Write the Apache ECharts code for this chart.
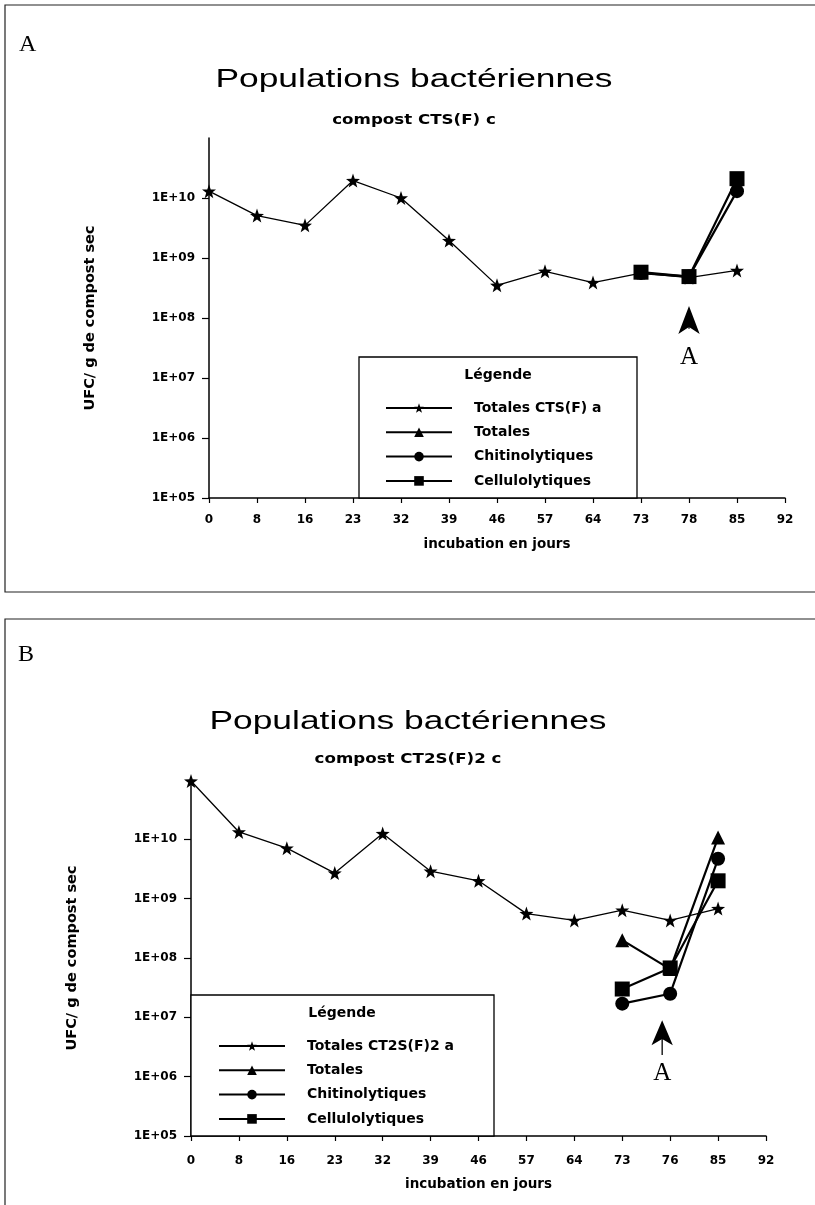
<!DOCTYPE html>
<html>
<head>
<meta charset="utf-8">
<title>Populations bactériennes</title>
<script src="https://cdn.jsdelivr.net/npm/echarts@6/dist/echarts.min.js"></script>
<style>
html, body { margin: 0; padding: 0; background: #fff; }
#chart { width: 815px; height: 1205px; }
</style>
</head>
<body>
<div id="chart"></div>
<script>
// jours d'incubation (axe des x), tels qu'imprimés sous chaque graphique
const joursA = ["0", "8", "16", "23", "32", "39", "46", "57", "64", "73", "78", "85", "92"];
const joursB = ["0", "8", "16", "23", "32", "39", "46", "57", "64", "73", "76", "85", "92"];
// graduations de l'axe log (UFC / g)
const yTicks = [1e5, 1e6, 1e7, 1e8, 1e9, 1e10];

// A - compost CTS(F) c
const totRefA = [1.3e10, 5.1e9, 3.5e9, 1.95e10, 1.0e10, 1.95e9, 3.5e8, 6.0e8, 3.9e8, 5.6e8, 4.7e8, 6.2e8, null];
const totalesA = [null, null, null, null, null, null, null, null, null, null, null, null, null];
const chitinoA = [null, null, null, null, null, null, null, null, null, 5.6e8, 4.9e8, 1.3e10, null];
const celluloA = [null, null, null, null, null, null, null, null, null, 5.8e8, 4.9e8, 2.1e10, null];

// B - compost CT2S(F)2 c
const totRefB = [9.6e10, 1.33e10, 7.1e9, 2.7e9, 1.25e10, 2.9e9, 2.0e9, 5.6e8, 4.3e8, 6.4e8, 4.3e8, 6.8e8, null];
const totalesB = [null, null, null, null, null, null, null, null, null, 2.0e8, 6.5e7, 1.07e10, null];
const chitinoB = [null, null, null, null, null, null, null, null, null, 1.7e7, 2.5e7, 4.7e9, null];
const celluloB = [null, null, null, null, null, null, null, null, null, 3.0e7, 6.8e7, 2.0e9, null];

const STAR = "path://M10 0L12.35 6.76L19.51 6.91L13.8 11.24L15.88 18.09L10 14L4.12 18.09L6.2 11.24L0.49 6.91L7.65 6.76Z";
const SANS = "DejaVu Sans";
const SERIF = "Liberation Serif";

const chart = echarts.init(document.getElementById("chart"), null, { renderer: "canvas" });

const fmtExp = (v) => {
	const e = Math.round(Math.log10(v));
	return "1E+" + (e < 10 ? "0" + e : e);
};

// axes
const xAxis = (idx, cats, margin, gap) => ({
	type: "category",
	gridIndex: idx,
	data: cats,
	boundaryGap: false,
	name: "incubation en jours",
	nameLocation: "middle",
	nameGap: gap,
	nameTextStyle: { fontFamily: SANS, fontWeight: "bold", fontSize: 13.5, color: "#000" },
	axisLine: { lineStyle: { color: "#000", width: 1.5 } },
	axisTick: { show: true, length: 5, lineStyle: { color: "#000", width: 1.2 } },
	axisLabel: { interval: 0, margin, fontFamily: SANS, fontWeight: "bold", fontSize: 12, color: "#000" },
	splitLine: { show: false },
});
const yAxis = (idx) => ({
	type: "log",
	gridIndex: idx,
	logBase: 10,
	min: 1e5,
	max: 1e11,
	name: "UFC/ g de compost sec",
	nameLocation: "middle",
	nameGap: 111,
	nameTextStyle: { fontFamily: SANS, fontWeight: "bold", fontSize: 14.5, color: "#000" },
	axisLine: { show: true, lineStyle: { color: "#000", width: 1.5 } },
	axisTick: { show: true, length: 7, customValues: yTicks, lineStyle: { color: "#000", width: 1.2 } },
	axisLabel: { customValues: yTicks, formatter: fmtExp, margin: 14, fontFamily: SANS, fontWeight: "bold", fontSize: 12, color: "#000" },
	splitLine: { show: false },
	minorTick: { show: false },
});

const lineSerie = (name, data, idx, symbol, size, width) => ({
	type: "line",
	name,
	data,
	xAxisIndex: idx,
	yAxisIndex: idx,
	symbol,
	symbolSize: size,
	showAllSymbol: true,
	connectNulls: false,
	lineStyle: { color: "#000", width },
	itemStyle: { color: "#000" },
	emphasis: { disabled: true },
	animation: false,
});

// flèche "A" (annotation) posée dans les coordonnées des axes
const fleche = (cat, headE, stemE, stemH, letterE, dx, head) => ({
	silent: true,
	animation: false,
	label: { show: false },
	itemStyle: { color: "#000" },
	data: [
		{ coord: [cat, Math.pow(10, headE)], symbol: "arrow", symbolSize: head, symbolOffset: [dx, 0] },
		{ coord: [cat, Math.pow(10, stemE)], symbol: "rect", symbolSize: [1.3, stemH], symbolOffset: [dx, 0] },
		{
			coord: [cat, Math.pow(10, letterE)], symbol: "rect", symbolSize: 1, symbolOffset: [dx, 0],
			itemStyle: { color: "rgba(0,0,0,0)" },
			label: { show: true, position: "inside", formatter: "A", fontFamily: SERIF, fontSize: 25, color: "#000" },
		},
	],
});

const legend = (left, top, names, pad) => ({
	orient: "vertical",
	left,
	top,
	itemWidth: 66,
	itemHeight: 12,
	itemGap: 8.3,
	selectedMode: false,
	data: names,
	textStyle: { fontFamily: SANS, fontWeight: "bold", fontSize: 14, lineHeight: 16, color: "#000", padding: [0, 0, 0, pad] },
});

// texte libre centré (titres, "Légende"), étiré comme sur le scan
const txt = (text, x, y, font, sx) => ({
	type: "text",
	z: 6,
	x,
	y,
	scaleX: sx,
	silent: true,
	style: { text, x: 0, y: 0, align: "center", verticalAlign: "middle", font, fill: "#000" },
});

const namesA = ["Totales CTS(F) a", "Totales", "Chitinolytiques", "Cellulolytiques"];
const namesB = ["Totales CT2S(F)2 a", "Totales", "Chitinolytiques", "Cellulolytiques"];

const serA0 = lineSerie(namesA[0], totRefA, 0, STAR, 14, 1.3);
serA0.markPoint = fleche("78", 8.2, 7.97, 18, 7.35, 0, [16, 28]);
const serB0 = lineSerie(namesB[0], totRefB, 1, STAR, 14, 1.3);
serB0.markPoint = fleche("76", 6.95, 6.6, 28, 6.06, -8, [16, 25]);

const TITLE_FONT = "26px 'Liberation Sans'";
const SUB_FONT = "bold 14px 'DejaVu Sans'";
const LEG_FONT = "bold 14px 'DejaVu Sans'";

const option = {
	backgroundColor: "#fff",
	animation: false,
	legend: [legend(380, 395, namesA, 17), legend(213, 1033, namesB, 17)],
	grid: [
		{ left: 209, right: 30, top: 138, bottom: 707 },
		{ left: 191, right: 49, top: 780, bottom: 69 },
	],
	xAxis: [xAxis(0, joursA, 16, 39), xAxis(1, joursB, 19, 41)],
	yAxis: [yAxis(0), yAxis(1)],
	graphic: [
		// cadres des deux figures
		{ type: "rect", z: 0, shape: { x: 5, y: 5, width: 830, height: 587 }, style: { fill: null, stroke: "#222", lineWidth: 1.2 } },
		{ type: "rect", z: 0, shape: { x: 5, y: 619, width: 830, height: 620 }, style: { fill: null, stroke: "#222", lineWidth: 1.2 } },
		{ type: "text", z: 5, left: 19, top: 33, style: { text: "A", font: "24px 'Liberation Serif'", fill: "#000" } },
		{ type: "text", z: 5, left: 18, top: 643, style: { text: "B", font: "24px 'Liberation Serif'", fill: "#000" } },
		// titres
		txt("Populations bactériennes", 414, 80, TITLE_FONT, 1.36),
		txt("compost CTS(F) c", 414, 120, SUB_FONT, 1.19),
		txt("Populations bactériennes", 408, 722, TITLE_FONT, 1.36),
		txt("compost CT2S(F)2 c", 408, 759, SUB_FONT, 1.19),
		// cadres des légendes
		{ type: "rect", z: 3, shape: { x: 359, y: 357, width: 278, height: 141 }, style: { fill: "#fff", stroke: "#000", lineWidth: 1.3 } },
		{ type: "rect", z: 3, shape: { x: 191, y: 995, width: 303, height: 141 }, style: { fill: "#fff", stroke: "#000", lineWidth: 1.3 } },
		txt("Légende", 498, 375, LEG_FONT, 1),
		txt("Légende", 342, 1013, LEG_FONT, 1),
	],
	series: [
		serA0,
		lineSerie(namesA[1], totalesA, 0, "triangle", 14, 2.2),
		lineSerie(namesA[2], chitinoA, 0, "circle", 14, 2.2),
		lineSerie(namesA[3], celluloA, 0, "rect", 15, 2.2),
		serB0,
		lineSerie(namesB[1], totalesB, 1, "triangle", 14, 2.2),
		lineSerie(namesB[2], chitinoB, 1, "circle", 14, 2.2),
		lineSerie(namesB[3], celluloB, 1, "rect", 15, 2.2),
	],
};

chart.setOption(option);
</script>
</body>
</html>
